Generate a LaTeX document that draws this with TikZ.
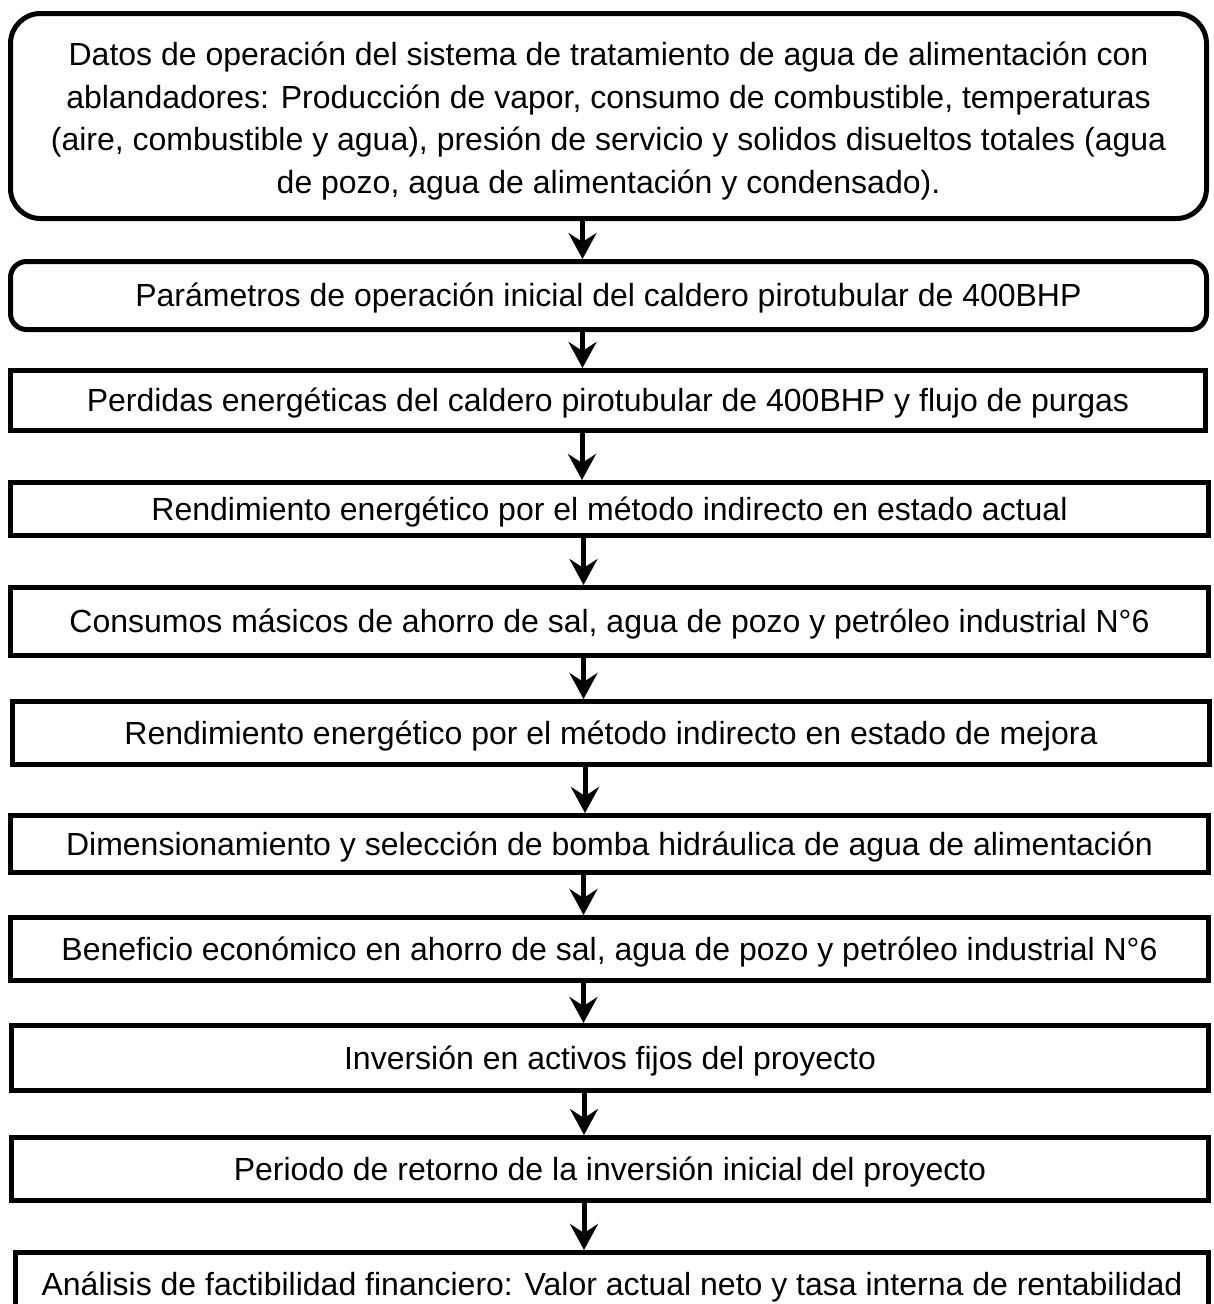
\documentclass[tikz,border=0pt]{standalone}
\usepackage{fontspec}
\setmainfont{Liberation Sans}
\usetikzlibrary{arrows.meta}
\begin{document}
\begin{tikzpicture}[x=1pt,y=-1pt,
  txt/.style={inner sep=0pt, align=center, font=\fontsize{32}{42.5}\selectfont},
  boxbase/.style={draw, line width=5pt, inner sep=0pt, align=center,
    font=\fontsize{32}{42.5}\selectfont},
  onebox/.style={boxbase, text height=26pt, text depth=4pt},
  arr/.style={line width=5pt, -{Stealth[length=26pt,width=28pt,inset=9pt]}}]
\useasboundingbox (0,0) rectangle (1214,1304);
\node[boxbase, rounded corners=30pt, minimum width=1196pt, minimum height=205pt] (b1) at (608.5,116) {};
\node[txt] (b1t) at ([yshift=-5pt]b1.center)
  {Datos de operación del sistema de tratamiento de agua de alimentación con\\
   ablandadores: Producción de vapor, consumo de combustible, temperaturas\\
   (aire, combustible y agua), presión de servicio y solidos disueltos totales (agua\\
   de pozo, agua de alimentación y condensado).};
\node[onebox, rounded corners=16pt, minimum width=1196pt, minimum height=68pt] (b2) at (608.5,295.5)
  {Parámetros de operación inicial del caldero pirotubular de 400BHP};
\node[onebox, minimum width=1195pt, minimum height=60pt] (b3) at (608,400.5)
  {Perdidas energéticas del caldero pirotubular de 400BHP y flujo de purgas};
\node[onebox, minimum width=1198pt, minimum height=53pt] (b4) at (609.5,509)
  {Rendimiento energético por el método indirecto en estado actual};
\node[onebox, minimum width=1198pt, minimum height=68pt] (b5) at (609.5,621.5)
  {Consumos másicos de ahorro de sal, agua de pozo y petróleo industrial N°6};
\node[onebox, minimum width=1197pt, minimum height=63pt] (b6) at (611,733)
  {Rendimiento energético por el método indirecto en estado de mejora};
\node[onebox, minimum width=1198pt, minimum height=57pt] (b7) at (609.5,844)
  {Dimensionamiento y selección de bomba hidráulica de agua de alimentación};
\node[onebox, minimum width=1198pt, minimum height=63pt] (b8) at (609.5,949)
  {Beneficio económico en ahorro de sal, agua de pozo y petróleo industrial N°6};
\node[onebox, minimum width=1197pt, minimum height=65pt] (b9) at (610,1058)
  {Inversión en activos fijos del proyecto};
\node[onebox, minimum width=1197pt, minimum height=63pt] (b10) at (610,1169)
  {Periodo de retorno de la inversión inicial del proyecto};
\node[onebox, minimum width=1193pt, minimum height=64pt] (b11) at (612,1284.5)
  {Análisis de factibilidad financiero: Valor actual neto y tasa interna de rentabilidad};
\foreach \a/\b in {b1/b2,b2/b3,b3/b4,b4/b5,b5/b6,b6/b7,b7/b8,b8/b9,b9/b10,b10/b11}
  \draw[arr] ([xshift=-26pt]\a.south) -- ([xshift=-26pt]\a.south |- \b.north);
\end{tikzpicture}
\end{document}
